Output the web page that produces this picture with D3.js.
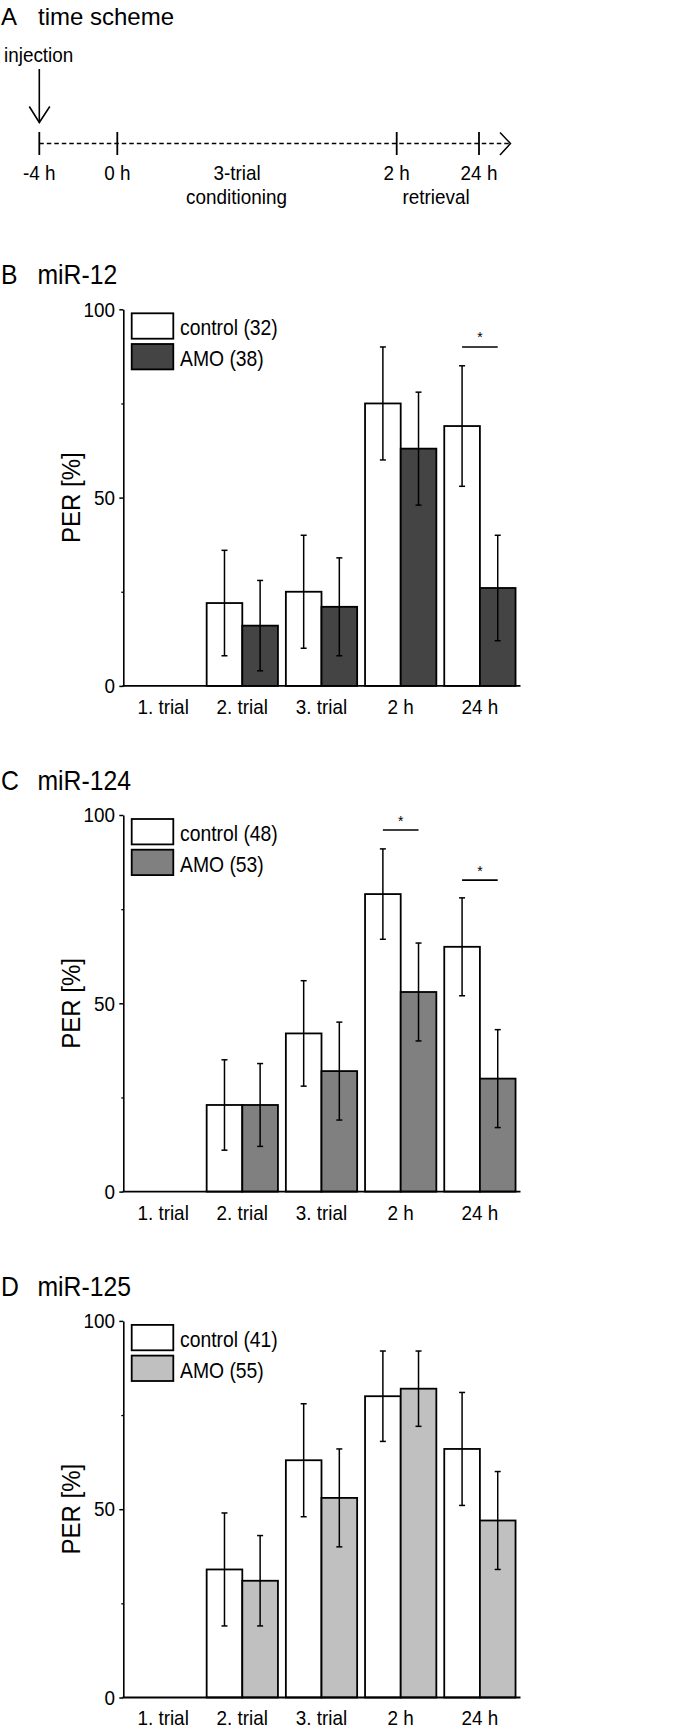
<!DOCTYPE html>
<html>
<head>
<meta charset="utf-8">
<script src="https://cdn.jsdelivr.net/npm/d3@7"></script>
<style>
  html, body { margin: 0; padding: 0; background: #fff; }
  svg { display: block; font-family: "Liberation Sans", Arial, sans-serif; }
</style>
</head>
<body>
<div id="chart"></div>
<script>
// ---------- DATA ----------
const categories = ["1. trial", "2. trial", "3. trial", "2 h", "24 h"];
const groups = ["control", "AMO"];

// time scheme
const schemeTimes = [-4, 0, 2, 24];
const schemeLabels = ["-4 h", "0 h", "2 h", "24 h"];

// panel B: miR-12
const b_control = [0, 22, 25, 75, 69];
const b_controlErr = [0, 14, 15, 15, 16];
const b_amo = [0, 16, 21, 63, 26];
const b_amoErr = [0, 12, 13, 15, 14];
const b_legend = ["control (32)", "AMO (38)"];
const b_sig = [{ cat: "24 h", level: 90 }];

// panel C: miR-124
const c_control = [0, 23, 42, 79, 65];
const c_controlErr = [0, 12, 14, 12, 13];
const c_amo = [0, 23, 32, 53, 30];
const c_amoErr = [0, 11, 13, 13, 13];
const c_legend = ["control (48)", "AMO (53)"];
const c_sig = [{ cat: "2 h", level: 96 }, { cat: "24 h", level: 82.7 }];

// panel D: miR-125
const d_control = [0, 34, 63, 80, 66];
const d_controlErr = [0, 15, 15, 12, 15];
const d_amo = [0, 31, 53, 82, 47];
const d_amoErr = [0, 12, 13, 10, 13];
const d_legend = ["control (41)", "AMO (55)"];
const d_sig = [];

const yMajorTicks = [0, 50, 100];
const yMinorTicks = [25, 75];

// ---------- LAYOUT ----------
const W = 675, H = 1730;
const svg = d3.select("#chart").append("svg").attr("width", W).attr("height", H);

function addText(g, x, y, str, size, sx, anchor) {
  return g.append("text")
    .attr("transform", `translate(${x},${y}) scale(${sx},1)`)
    .attr("font-size", size)
    .attr("text-anchor", anchor || "start")
    .text(str);
}

// ---------- PANEL A ----------
const gA = svg.append("g");
addText(gA, 1, 25, "A", 24, 1);
addText(gA, 38, 25, "time scheme", 24, 1);

const tScale = d3.scaleLinear().domain([-4, 0, 2, 24]).range([39.3, 117.3, 396.7, 479]);
const lineY = 143.5;
addText(gA, 4, 62, "injection", 19.5, 0.97);
// injection arrow
gA.append("line").attr("x1", tScale(-4)).attr("x2", tScale(-4)).attr("y1", 69).attr("y2", 122.5)
  .attr("stroke", "#000").attr("stroke-width", 1.6);
gA.append("path").attr("d", `M${tScale(-4) - 10},106.5 L${tScale(-4)},122.5 L${tScale(-4) + 10.5},106.5`)
  .attr("fill", "none").attr("stroke", "#000").attr("stroke-width", 1.6);
// dashed timeline
gA.append("line").attr("x1", tScale(-4)).attr("x2", 509).attr("y1", lineY).attr("y2", lineY)
  .attr("stroke", "#000").attr("stroke-width", 1.4).attr("stroke-dasharray", "4.5,3");
gA.append("path").attr("d", `M500,132.5 L510.5,${lineY} L500,155`)
  .attr("fill", "none").attr("stroke", "#000").attr("stroke-width", 1.5);
gA.selectAll("line.tk").data(schemeTimes).enter().append("line").attr("class", "tk")
  .attr("x1", d => tScale(d)).attr("x2", d => tScale(d)).attr("y1", 132).attr("y2", 155)
  .attr("stroke", "#000").attr("stroke-width", 1.8);
schemeTimes.forEach((t, i) => addText(gA, tScale(t), 180, schemeLabels[i], 19.5, 0.97, "middle"));
addText(gA, 237, 180, "3-trial", 19.5, 0.97, "middle");
addText(gA, 236.5, 204, "conditioning", 19.5, 0.97, "middle");
addText(gA, 436, 204, "retrieval", 19.5, 0.97, "middle");

// ---------- BAR PANELS ----------
const x0 = d3.scaleBand().domain(categories).range([123.5, 519.5]).paddingInner(0.1).paddingOuter(0.05);
const x1 = d3.scaleBand().domain(groups).range([0, x0.bandwidth()]);

function drawPanel(letter, title, top, ctrl, ctrlErr, amo, amoErr, legendLabels, amoColor, sigs) {
  const bottom = top + 376.6;
  const y = d3.scaleLinear().domain([0, 100]).range([bottom, top]);
  const g = svg.append("g");
  const colors = { control: "#ffffff", AMO: amoColor };

  addText(g, 1, top - 25, letter, 27.5, 0.9);
  addText(g, 37.5, top - 25, title, 27.5, 0.9);

  // y label
  g.append("text").attr("transform", `translate(79.5,${y(50)}) rotate(-90) scale(0.96,1)`)
    .attr("text-anchor", "middle").attr("font-size", 25).text("PER [%]");

  // bars
  const rows = categories.map((c, i) => ({
    cat: c,
    vals: [
      { key: "control", v: ctrl[i], e: ctrlErr[i] },
      { key: "AMO", v: amo[i], e: amoErr[i] }
    ]
  }));
  const cg = g.selectAll("g.cat").data(rows).enter().append("g")
    .attr("transform", d => `translate(${x0(d.cat)},0)`);
  const items = cg.selectAll("g.bar").data(d => d.vals.filter(v => v.v > 0)).enter().append("g");
  items.append("rect")
    .attr("x", d => x1(d.key))
    .attr("y", d => y(d.v))
    .attr("width", x1.bandwidth())
    .attr("height", d => y(0) - y(d.v))
    .attr("fill", d => colors[d.key])
    .attr("stroke", "#000").attr("stroke-width", 1.8);
  const cx = d => x1(d.key) + x1.bandwidth() / 2;
  items.append("line")
    .attr("x1", cx).attr("x2", cx)
    .attr("y1", d => y(d.v + d.e)).attr("y2", d => y(d.v - d.e))
    .attr("stroke", "#000").attr("stroke-width", 1.5);
  items.append("line")
    .attr("x1", d => cx(d) - 3).attr("x2", d => cx(d) + 3)
    .attr("y1", d => y(d.v + d.e)).attr("y2", d => y(d.v + d.e))
    .attr("stroke", "#000").attr("stroke-width", 1.5);
  items.append("line")
    .attr("x1", d => cx(d) - 3).attr("x2", d => cx(d) + 3)
    .attr("y1", d => y(d.v - d.e)).attr("y2", d => y(d.v - d.e))
    .attr("stroke", "#000").attr("stroke-width", 1.5);

  // significance
  sigs.forEach(s => {
    const xa = x0(s.cat) + x1("control") + x1.bandwidth() / 2;
    const xb = x0(s.cat) + x1("AMO") + x1.bandwidth() / 2;
    g.append("line").attr("x1", xa).attr("x2", xb).attr("y1", y(s.level)).attr("y2", y(s.level))
      .attr("stroke", "#000").attr("stroke-width", 1.6);
    g.append("text").attr("x", (xa + xb) / 2).attr("y", y(s.level) - 4.5)
      .attr("text-anchor", "middle").attr("font-size", 14).text("*");
  });

  // y axis
  const yAx = g.append("g").attr("transform", "translate(123.3,0)")
    .call(d3.axisLeft(y).tickValues(yMajorTicks).tickSize(4).tickSizeOuter(0).tickPadding(5.2));
  yAx.select(".domain").attr("stroke-width", 1.6);
  yAx.selectAll(".tick line").attr("stroke-width", 1.5);
  yAx.selectAll(".tick text").attr("font-size", 21).attr("transform", "scale(0.9,1)")
    .attr("font-family", "Liberation Sans, Arial, sans-serif");
  const yMin = g.append("g").attr("transform", "translate(123.3,0)")
    .call(d3.axisLeft(y).tickValues(yMinorTicks).tickSize(2).tickSizeOuter(0).tickFormat(""));
  yMin.select(".domain").remove();
  yMin.selectAll(".tick line").attr("stroke-width", 1.3);

  // x axis
  const xAx = g.append("g").attr("transform", `translate(0,${y(0)})`)
    .call(d3.axisBottom(x0).tickSize(0).tickSizeOuter(0).tickPadding(13));
  xAx.select(".domain").attr("d", `M122.5,0H520.5`).attr("stroke-width", 1.8);
  xAx.selectAll(".tick text").attr("font-size", 21).attr("transform", "scale(0.9,1)")
    .attr("font-family", "Liberation Sans, Arial, sans-serif");

  // legend
  const lg = g.append("g").attr("transform", `translate(131.7,${top + 4})`);
  groups.forEach((k, i) => {
    lg.append("rect").attr("x", 0).attr("y", i * 30.7).attr("width", 41.6).attr("height", 25.4)
      .attr("fill", colors[k]).attr("stroke", "#000").attr("stroke-width", 1.8);
    addText(lg, 48.3, i * 30.7 + 22, legendLabels[i], 22.5, 0.86);
  });
}

drawPanel("B", "miR-12", 309.3, b_control, b_controlErr, b_amo, b_amoErr, b_legend, "#444444", b_sig);
drawPanel("C", "miR-124", 815.0, c_control, c_controlErr, c_amo, c_amoErr, c_legend, "#808080", c_sig);
drawPanel("D", "miR-125", 1320.9, d_control, d_controlErr, d_amo, d_amoErr, d_legend, "#c0c0c0", d_sig);
</script>
</body>
</html>
